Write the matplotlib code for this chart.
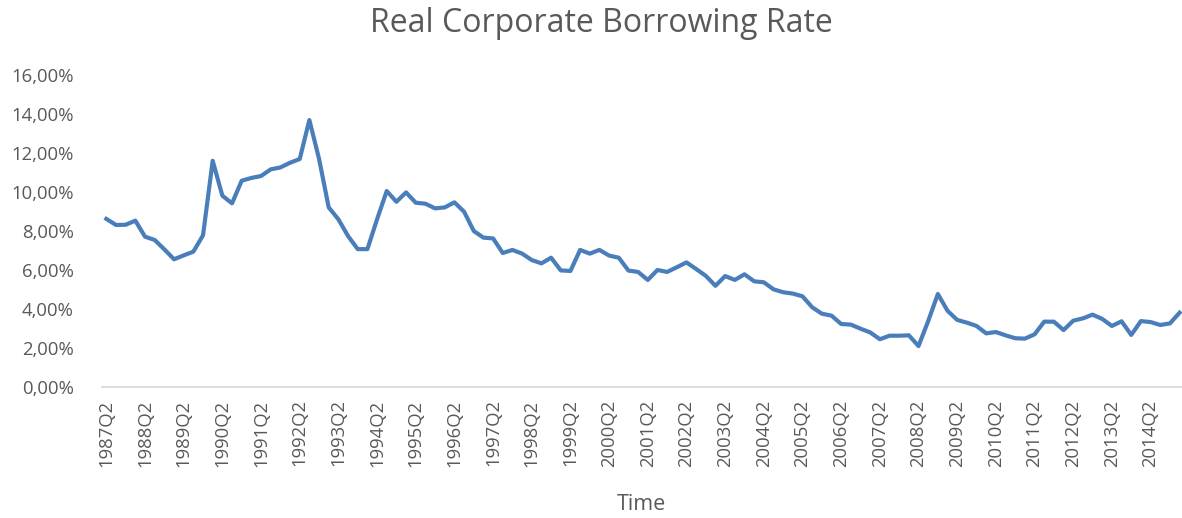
import matplotlib
matplotlib.use("Agg")
import matplotlib.pyplot as plt
from matplotlib.ticker import FuncFormatter, MultipleLocator

plt.rcParams['font.family'] = ['Open Sans', 'DejaVu Sans']

# quarterly series, 1987Q2 .. 2015Q1
start_year, start_q = 1987, 2
rate = [
    8.62, 8.31, 8.32, 8.53, 7.71, 7.54, 7.06, 6.55, 6.75, 6.94,
    7.78, 11.60, 9.81, 9.42, 10.58, 10.72, 10.82, 11.16, 11.26, 11.50,
    11.69, 13.69, 11.70, 9.21, 8.60, 7.74, 7.07, 7.07, 8.60, 10.05,
    9.50, 9.98, 9.45, 9.40, 9.16, 9.21, 9.47, 8.99, 8.00, 7.66,
    7.62, 6.87, 7.03, 6.84, 6.51, 6.34, 6.63, 5.98, 5.95, 7.03,
    6.84, 7.03, 6.74, 6.63, 5.97, 5.90, 5.49, 6.00, 5.90, 6.14,
    6.39, 6.05, 5.70, 5.19, 5.69, 5.49, 5.78, 5.42, 5.37, 5.01,
    4.86, 4.79, 4.65, 4.09, 3.76, 3.66, 3.23, 3.20, 2.99, 2.80,
    2.45, 2.63, 2.63, 2.65, 2.10, 3.38, 4.77, 3.91, 3.44, 3.30,
    3.13, 2.75, 2.82, 2.65, 2.50, 2.48, 2.70, 3.35, 3.35, 2.92,
    3.40, 3.52, 3.71, 3.49, 3.13, 3.37, 2.67, 3.38, 3.33, 3.18,
    3.26, 3.81,
]

quarters = []
y, q = start_year, start_q
for _ in rate:
    quarters.append(f"{y}Q{q}")
    q += 1
    if q > 4:
        q = 1
        y += 1

W, H = 1182, 518
fig = plt.figure(figsize=(W / 100, H / 100), dpi=100)
ax = fig.add_axes([101.5 / W, 1 - 387 / H, (W - 101.5) / W, (387 - 75) / H])

x = list(range(len(rate)))
ax.plot(x, rate, color='#4A7EBB', linewidth=3.0, solid_joinstyle='round')

ax.set_xlim(-0.5, len(rate) - 0.75)
ax.set_ylim(0, 16)
ax.yaxis.set_major_locator(MultipleLocator(2))
ax.yaxis.set_major_formatter(FuncFormatter(lambda v, p: f"{v:.2f}%".replace('.', ',')))

ax.set_xticks(x[::4])
ax.set_xticklabels(quarters[::4], rotation=90)

for s in ['top', 'right', 'left']:
    ax.spines[s].set_visible(False)
ax.spines['bottom'].set_color('#D9D9D9')
ax.spines['bottom'].set_linewidth(1.3)

ax.tick_params(axis='both', length=0, colors='#595959', labelsize=13.3)
ax.tick_params(axis='y', pad=20)
ax.tick_params(axis='x', pad=9)

fig.suptitle('Real Corporate Borrowing Rate', x=601 / W, y=1 - 23 / H,
             va='center', fontsize=23, color='#595959')
fig.text(641 / W, 1 - 505 / H, 'Time', ha='center', va='center',
         fontsize=15.5, color='#595959')

fig.savefig('out.png', dpi=100)
plt.close(fig)
